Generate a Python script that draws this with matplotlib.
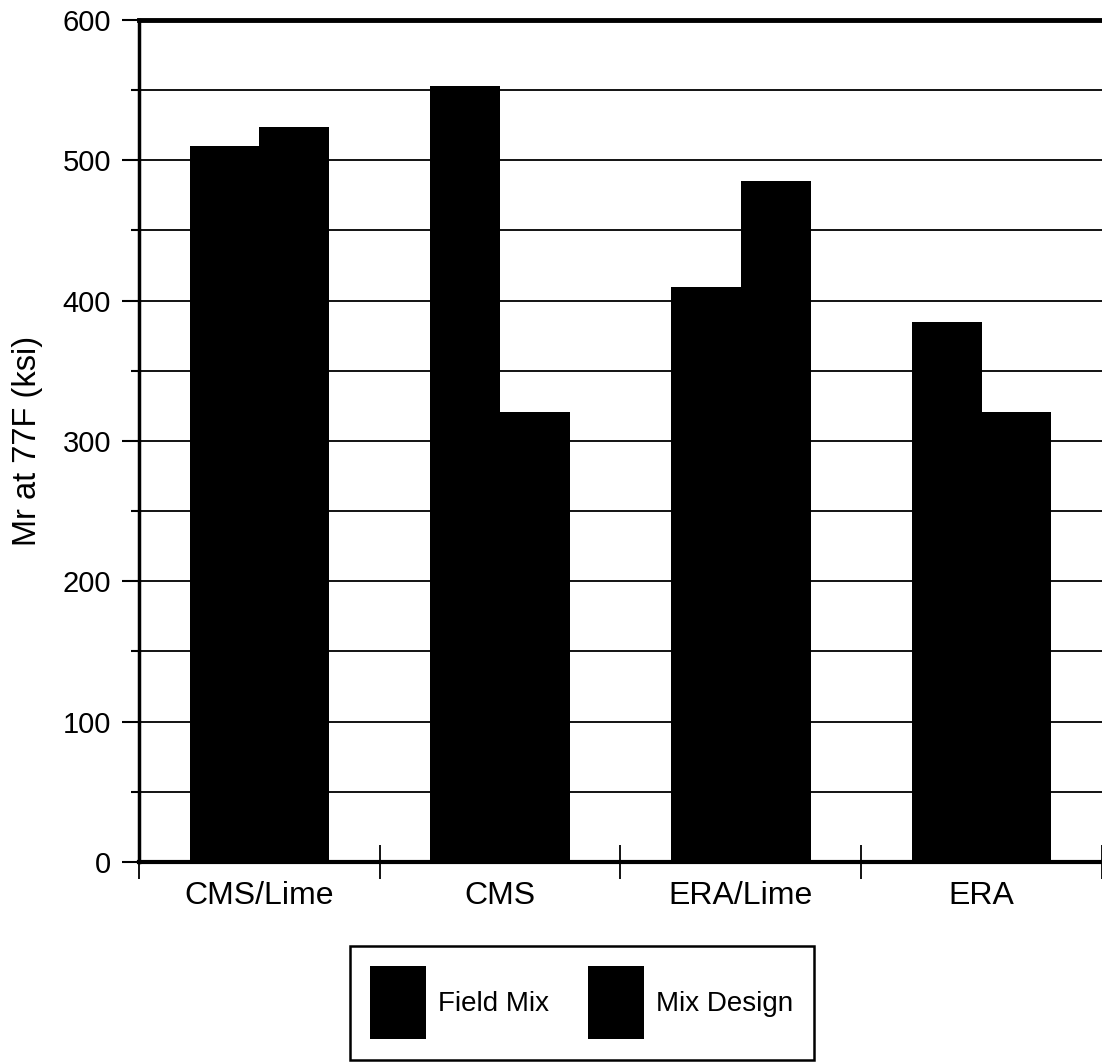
import matplotlib as mpl
mpl.use("Agg")
import matplotlib.pyplot as plt
import numpy as np

# values (ksi)
categories = ["CMS/Lime", "CMS", "ERA/Lime", "ERA"]
field_mix = [510, 553, 410, 385]
mix_design = [524, 321, 485, 321]
series_names = ["Field Mix", "Mix Design"]
y_ticks = [0, 100, 200, 300, 400, 500, 600]

plt.rcParams["font.family"] = ["Liberation Sans", "DejaVu Sans"]
plt.rcParams["font.size"] = 20

fig = plt.figure(figsize=(11.02, 10.63), dpi=100)
ax = fig.add_axes([0.1261, 0.1891, 0.8739, 0.7921])

x = np.arange(len(categories))
w = 0.29
ax.bar(x - w / 2, field_mix, w, color="black", zorder=3, label=series_names[0])
ax.bar(x + w / 2, mix_design, w, color="black", zorder=3, label=series_names[1])

ax.set_xlim(-0.5, len(categories) - 0.5)
ax.set_ylim(0, 600)

# horizontal gridlines every 50
ax.set_yticks(y_ticks)
ax.set_yticks(np.arange(50, 600, 100), minor=True)
ax.yaxis.grid(True, which="both", color="black", linewidth=1.3, zorder=1)
ax.set_axisbelow(True)
ax.tick_params(axis="y", which="major", direction="out", length=12, width=1.5,
               pad=8, labelsize=21)
ax.tick_params(axis="y", which="minor", direction="out", length=6, width=1.5)

ax.set_xticks(x)
ax.set_xticklabels(categories)
ax.set_xticks(np.arange(-0.5, len(categories) - 0.4, 1.0), minor=True)
ax.tick_params(axis="x", which="major", length=0, pad=14, labelsize=23)
ax.tick_params(axis="x", which="minor", direction="inout", length=24, width=1.3)

ax.set_ylabel("Mr at 77F (ksi)", fontsize=23.5, labelpad=14)

for side, lw in [("left", 2.5), ("top", 3.5), ("bottom", 3)]:
    ax.spines[side].set_linewidth(lw)
    ax.spines[side].set_color("black")
ax.spines["right"].set_visible(False)

leg = fig.legend(loc="center", bbox_to_anchor=(0.528, 0.0565), ncol=2,
                 frameon=True, fancybox=False, edgecolor="black", framealpha=1,
                 handlelength=2.0, handleheight=3.66, handletextpad=0.45,
                 columnspacing=1.4, borderpad=0.73, fontsize=20)
leg.get_frame().set_linewidth(1.8)

fig.savefig("out.png", dpi=100, facecolor="white")
